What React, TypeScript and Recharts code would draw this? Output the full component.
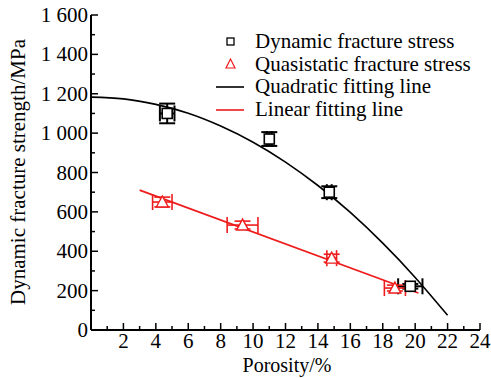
import React from 'react';
import { ComposedChart, Line, Scatter, XAxis, YAxis, ErrorBar, Legend } from 'recharts';

const dynamicStress = [
    { x: 4.7, y: 1100, ex: 0.45, ey: 50 },
    { x: 11.0, y: 970, ex: 0.15, ey: 35 },
    { x: 14.7, y: 700, ex: 0.15, ey: 30 },
    { x: 19.7, y: 222, ex: 0.75, ey: 12 },
];

const quasiStress = [
    { x: 4.4, y: 650, ex: 0.6, ey: 25 },
    { x: 9.35, y: 533, ex: 0.95, ey: 20 },
    { x: 14.85, y: 365, ex: 0.3, ey: 20 },
    { x: 18.75, y: 213, ex: 0.65, ey: 15 },
];

// points
const quadraticFit = [
    { x: 0, y: 1183 }, { x: 2, y: 1174 }, { x: 4, y: 1146 }, { x: 6, y: 1101 },
    { x: 8, y: 1036 }, { x: 10, y: 954 }, { x: 12, y: 853 }, { x: 14, y: 734 },
    { x: 16, y: 597 }, { x: 18, y: 441 }, { x: 20, y: 267 }, { x: 22, y: 75 },
];

const linearFit = [
    { x: 3.0, y: 710 },
    { x: 20.2, y: 188 },
];

const xTicks = Array.from({ length: 25 }, (_, i) => i);
const yTicks = Array.from({ length: 17 }, (_, i) => i * 100);

const RED = '#ee1c1c';
const FONT = '"Liberation Serif", "DejaVu Serif", serif';
const FS = 21;

const fmtY = (v: number) => (v >= 1000 ? `${Math.floor(v / 1000)} ${String(v % 1000).padStart(3, '0')}` : `${v}`);

const BottomTick = ({ x, y, payload }: any) => {
    const major = payload.value % 2 === 0;
    return (
        <g>
            <line x1={x} x2={x} y1={y} y2={y - (major ? 7 : 4)} stroke="#000" strokeWidth={1.5} />
            {major && payload.value !== 0 && (
                <text x={x} y={y + 18} textAnchor="middle" fontSize={FS} fontFamily={FONT} fill="#000">
                    {payload.value}
                </text>
            )}
        </g>
    );
};

const TopTick = ({ x, y, payload }: any) => {
    const major = payload.value % 2 === 0;
    return <line x1={x} x2={x} y1={y} y2={y + (major ? 7 : 4)} stroke="#000" strokeWidth={1.5} />;
};

const LeftTick = ({ x, y, payload }: any) => {
    const major = payload.value % 200 === 0;
    return (
        <g>
            <line x1={x} x2={x + (major ? 7 : 4)} y1={y} y2={y} stroke="#000" strokeWidth={1.5} />
            {major && (
                <text x={x - 3} y={y + 7} textAnchor="end" fontSize={FS} fontFamily={FONT} fill="#000">
                    {fmtY(payload.value)}
                </text>
            )}
        </g>
    );
};

const RightTick = ({ x, y, payload }: any) => {
    const major = payload.value % 200 === 0;
    return <line x1={x} x2={x - (major ? 7 : 4)} y1={y} y2={y} stroke="#000" strokeWidth={1.5} />;
};

const Square = ({ cx, cy }: any) => (
    <rect x={cx - 5} y={cy - 5} width={10} height={10} fill="#fff" stroke="#000" strokeWidth={1.6} />
);

const Triangle = ({ cx, cy }: any) => (
    <polygon points={`${cx},${cy - 6} ${cx - 6},${cy + 5} ${cx + 6},${cy + 5}`} fill="#fff" stroke={RED} strokeWidth={1.4} />
);

const legendRows = [
    { name: 'Dynamic fracture stress', kind: 'square' },
    { name: 'Quasistatic fracture stress', kind: 'triangle' },
    { name: 'Quadratic fitting line', kind: 'black' },
    { name: 'Linear fitting line', kind: 'red' },
];

const LegendBox = () => (
    <div style={{ fontFamily: FONT, fontSize: FS, lineHeight: '22.5px', color: '#000' }}>
        {legendRows.map((r) => (
            <div key={r.name} style={{ display: 'flex', alignItems: 'center', whiteSpace: 'nowrap', height: 22.5 }}>
                <svg width={40} height={22}>
                    {r.kind === 'square' && <rect x={14} y={8} width={7} height={7} fill="#fff" stroke="#000" strokeWidth={1.3} />}
                    {r.kind === 'triangle' && <polygon points="17.5,6 13,15 22,15" fill="#fff" stroke={RED} strokeWidth={1.2} />}
                    {r.kind === 'black' && <line x1={3} x2={31} y1={12} y2={12} stroke="#000" strokeWidth={1.6} />}
                    {r.kind === 'red' && <line x1={3} x2={31} y1={12} y2={12} stroke={RED} strokeWidth={1.6} />}
                </svg>
                <span style={{ marginLeft: 2 }}>{r.name}</span>
            </div>
        ))}
    </div>
);

export default function App() {
    return (
        <div style={{ position: 'absolute', left: 0, top: 0, width: 491, height: 378, background: '#fff' }}>
            <ComposedChart width={491} height={378} margin={{ top: 15, right: 11, bottom: 0, left: 0 }}>
                <XAxis
                    xAxisId="b" type="number" dataKey="x" orientation="bottom" domain={[0, 24]} ticks={xTicks}
                    interval={0} height={48} tickSize={0} tickMargin={0} tickLine={false}
                    axisLine={{ stroke: '#000', strokeWidth: 2 }} tick={<BottomTick />}
                />
                <XAxis
                    xAxisId="t" type="number" dataKey="x" orientation="top" domain={[0, 24]} ticks={xTicks}
                    interval={0} height={0} tickSize={0} tickMargin={0} tickLine={false}
                    axisLine={{ stroke: '#000', strokeWidth: 2 }} tick={<TopTick />}
                />
                <YAxis
                    yAxisId="l" type="number" domain={[0, 1600]} ticks={yTicks} interval={0} width={91}
                    tickSize={0} tickMargin={0} tickLine={false}
                    axisLine={{ stroke: '#000', strokeWidth: 2 }} tick={<LeftTick />}
                />
                <YAxis
                    yAxisId="r" orientation="right" type="number" domain={[0, 1600]} ticks={yTicks} interval={0}
                    width={0} tickSize={0} tickMargin={0} tickLine={false}
                    axisLine={{ stroke: '#000', strokeWidth: 2 }} tick={<RightTick />}
                />
                <Line xAxisId="b" yAxisId="l" data={quadraticFit} dataKey="y" type="natural" stroke="#000"
                    strokeWidth={1.6} dot={false} isAnimationActive={false} />
                <Line xAxisId="b" yAxisId="l" data={linearFit} dataKey="y" type="linear" stroke={RED}
                    strokeWidth={1.8} dot={false} isAnimationActive={false} />
                <Scatter xAxisId="b" yAxisId="l" data={dynamicStress} dataKey="y" shape={<Square />} isAnimationActive={false}>
                    <ErrorBar dataKey="ey" direction="y" width={8} stroke="#000" strokeWidth={2} />
                    <ErrorBar dataKey="ex" direction="x" width={8} stroke="#000" strokeWidth={2} />
                </Scatter>
                <Scatter xAxisId="b" yAxisId="l" data={quasiStress} dataKey="y" shape={<Triangle />} isAnimationActive={false}>
                    <ErrorBar dataKey="ey" direction="y" width={8} stroke={RED} strokeWidth={1.6} />
                    <ErrorBar dataKey="ex" direction="x" width={8} stroke={RED} strokeWidth={1.6} />
                </Scatter>
                <Legend
                    layout="vertical" align="center" verticalAlign="middle" content={<LegendBox />}
                    wrapperStyle={{ position: 'absolute', left: 213, top: 30, width: 'auto', height: 'auto' }}
                />
                <text x={287} y={372} textAnchor="middle" fontSize={20} fontFamily={FONT} fill="#000">
                    Porosity/%
                </text>
                <text x={25} y={172} textAnchor="middle" fontSize={FS} fontFamily={FONT} fill="#000"
                    transform="rotate(-90 25 172)">
                    Dynamic fracture strength/MPa
                </text>
            </ComposedChart>
        </div>
    );
}
